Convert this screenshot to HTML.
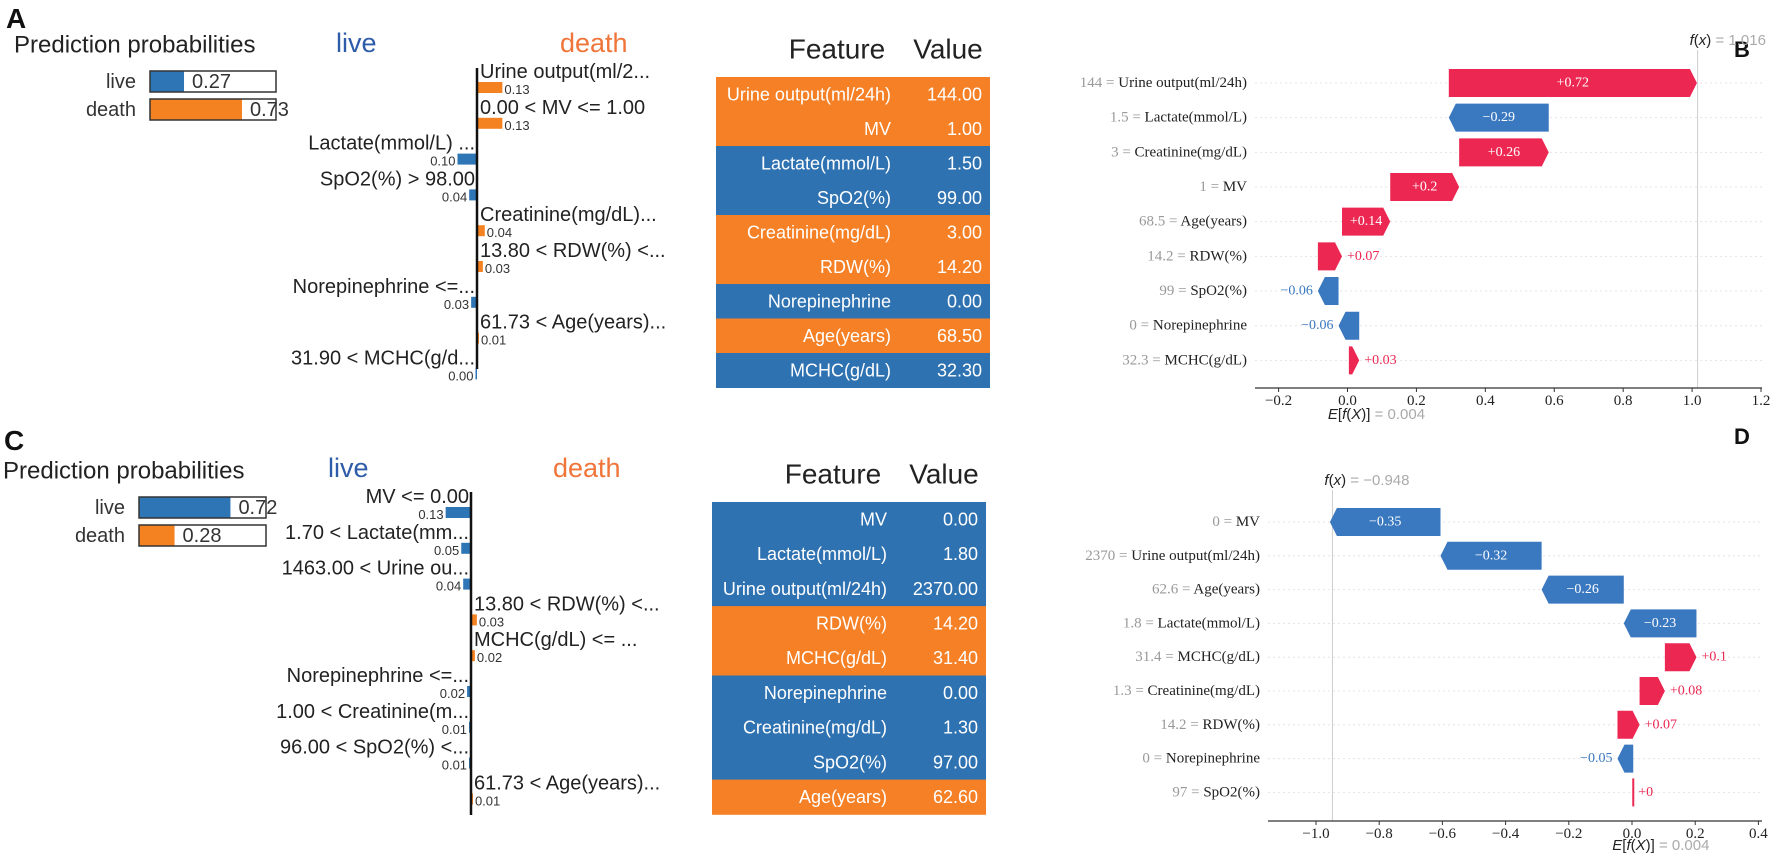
<!DOCTYPE html>
<html><head><meta charset="utf-8">
<style>
html,body{margin:0;padding:0;background:#fff;}
svg{display:block;}
.sans{font-family:"Liberation Sans",sans-serif;}
.serif{font-family:"Liberation Serif",serif;}
</style></head>
<body>
<svg id="fig" width="1772" height="853" viewBox="0 0 1772 853" xmlns="http://www.w3.org/2000/svg">
<rect width="1772" height="853" fill="#fff"/>
<text x="6" y="28" class="sans" font-size="28" font-weight="bold" fill="#111">A</text>
<text x="4" y="450" class="sans" font-size="28" font-weight="bold" fill="#111">C</text>
<text x="1734" y="57" class="sans" font-size="22" font-weight="bold" fill="#111">B</text>
<text x="1734" y="444" class="sans" font-size="22" font-weight="bold" fill="#111">D</text>
<g id="gA"></g>
<g id="gC"></g>
<g id="gB"></g>
<g id="gD"></g>
</svg>
<script>
// ---------- Data: panel A (LIME) ----------
const probLabels = ['live','death'];
const probA = [0.27, 0.73];
const limeALabels = ['Urine output(ml/2...','0.00 < MV <= 1.00','Lactate(mmol/L) ...','SpO2(%) > 98.00','Creatinine(mg/dL)...','13.80 < RDW(%) <...','Norepinephrine <=...','61.73 < Age(years)...','31.90 < MCHC(g/d...'];
const limeAValues = [0.13, 0.13, -0.10, -0.04, 0.04, 0.03, -0.03, 0.01, -0.004];
const tableAFeatures = ['Urine output(ml/24h)','MV','Lactate(mmol/L)','SpO2(%)','Creatinine(mg/dL)','RDW(%)','Norepinephrine','Age(years)','MCHC(g/dL)'];
const tableAValues = ['144.00','1.00','1.50','99.00','3.00','14.20','0.00','68.50','32.30'];
const tableAClass = ['death','death','live','live','death','death','live','death','live'];
// ---------- Data: panel C (LIME) ----------
const probC = [0.72, 0.28];
const limeCLabels = ['MV <= 0.00','1.70 < Lactate(mm...','1463.00 < Urine ou...','13.80 < RDW(%) <...','MCHC(g/dL) <= ...','Norepinephrine <=...','1.00 < Creatinine(m...','96.00 < SpO2(%) <...','61.73 < Age(years)...'];
const limeCValues = [-0.13, -0.05, -0.04, 0.03, 0.02, -0.02, -0.01, -0.01, 0.01];
const tableCFeatures = ['MV','Lactate(mmol/L)','Urine output(ml/24h)','RDW(%)','MCHC(g/dL)','Norepinephrine','Creatinine(mg/dL)','SpO2(%)','Age(years)'];
const tableCValues = ['0.00','1.80','2370.00','14.20','31.40','0.00','1.30','97.00','62.60'];
const tableCClass = ['live','live','live','death','death','live','live','live','death'];
// ---------- Data: panel B (SHAP) ----------
const shapBFeatures = ['Urine output(ml/24h)','Lactate(mmol/L)','Creatinine(mg/dL)','MV','Age(years)','RDW(%)','SpO2(%)','Norepinephrine','MCHC(g/dL)'];
const shapBFeatureValues = ['144','1.5','3','1','68.5','14.2','99','0','32.3'];
const shapBContrib = [0.72, -0.29, 0.26, 0.2, 0.14, 0.07, -0.06, -0.06, 0.03];
const shapBBase = 0.004;
const shapBFx = 1.016;
const shapBTicks = [-0.2, 0.0, 0.2, 0.4, 0.6, 0.8, 1.0, 1.2];
// ---------- Data: panel D (SHAP) ----------
const shapDFeatures = ['MV','Urine output(ml/24h)','Age(years)','Lactate(mmol/L)','MCHC(g/dL)','Creatinine(mg/dL)','RDW(%)','Norepinephrine','SpO2(%)'];
const shapDFeatureValues = ['0','2370','62.6','1.8','31.4','1.3','14.2','0','97'];
const shapDContrib = [-0.35, -0.32, -0.26, -0.23, 0.1, 0.08, 0.07, -0.05, 0.0];
const shapDBase = 0.004;
const shapDFx = -0.948;
const shapDTicks = [-1.0, -0.8, -0.6, -0.4, -0.2, 0.0, 0.2, 0.4];

const NS = 'http://www.w3.org/2000/svg';
const BLUE = '#2e75b6', ORANGE = '#f58220';
const TBLUE = '#2f72b1', TORANGE = '#f58025';
const RED = '#ec2752', SBLUE = '#3a78c0';
function el(parent, tag, attrs, text) {
  const e = document.createElementNS(NS, tag);
  for (const k in attrs) e.setAttribute(k, attrs[k]);
  if (text !== undefined) e.textContent = text;
  parent.appendChild(e);
  return e;
}
function fmtTick(v) { const s = Math.abs(v).toFixed(1); return v < -1e-9 ? '\u2212' + s : s; }

function drawLime(g, L, probs, labels, values, feats, vals, cls) {
  let t = el(g, 'text', {x: L.ppX, y: L.ppY, class: 'sans', 'font-size': 24, fill: '#222', 'dominant-baseline': 'central'}, 'Prediction probabilities');
  
  
  for (let i = 0; i < probs.length; i++) {
    const by = L.boxY[i];
    t = el(g, 'text', {x: L.boxX - 14, y: by + 11, class: 'sans', 'font-size': 20, fill: '#333', 'text-anchor': 'end', 'dominant-baseline': 'central'}, probLabels[i]);
    
    
    const fw = probs[i] * L.boxW;
    let r = el(g, 'rect', {x: L.boxX, y: by, width: fw, height: 21, fill: i === 0 ? BLUE : ORANGE});
    
    
    r = el(g, 'rect', {x: L.boxX, y: by, width: L.boxW, height: 21, fill: 'none', stroke: '#333', 'stroke-width': 1.5});
    
    
    t = el(g, 'text', {x: L.boxX + fw + 8, y: by + 11, class: 'sans', 'font-size': 20, fill: '#333', 'dominant-baseline': 'central'}, probs[i].toFixed(2));
    
    
  }
  t = el(g, 'text', {x: L.liveX, y: L.hdrY, class: 'sans', 'font-size': 27, fill: '#2e5ca8', 'dominant-baseline': 'central'}, 'live');
  
  
  t = el(g, 'text', {x: L.deathX, y: L.hdrY, class: 'sans', 'font-size': 27, fill: '#f0753a', 'dominant-baseline': 'central'}, 'death');
  
  
  const sc = v => v * 195;
  for (let i = 0; i < values.length; i++) {
    const ly = L.rowY0 + i * L.rowStep;
    const v = values[i];
    const right = v > 0;
    const w = Math.max(Math.abs(sc(v)), 1.5);
    t = el(g, 'text', {x: right ? L.axX + 3 : L.axX - 2, y: ly, class: 'sans', 'font-size': 20, fill: '#222', 'text-anchor': right ? 'start' : 'end', 'dominant-baseline': 'central'}, labels[i]);
    
    
    const r = el(g, 'rect', {x: right ? L.axX : L.axX - w, y: ly + 10, width: w, height: 11, fill: right ? ORANGE : BLUE});
    
    
    t = el(g, 'text', {x: right ? L.axX + w + 2 : L.axX - w - 2, y: ly + 22, class: 'sans', 'font-size': 13, fill: '#333', 'text-anchor': right ? 'start' : 'end'}, Math.abs(v).toFixed(2));
    
    
  }
  const ax = el(g, 'line', {x1: L.axX, x2: L.axX, y1: L.axY1, y2: L.axY2, stroke: '#111', 'stroke-width': 2.5});
  
  
  t = el(g, 'text', {x: L.tX + 121, y: L.tHdrY, class: 'sans', 'font-size': 28, fill: '#222', 'text-anchor': 'middle', 'dominant-baseline': 'central'}, 'Feature');
  
  
  t = el(g, 'text', {x: L.tX + 232, y: L.tHdrY, class: 'sans', 'font-size': 28, fill: '#222', 'text-anchor': 'middle', 'dominant-baseline': 'central'}, 'Value');
  
  
  for (let i = 0; i < feats.length; i++) {
    const y = L.tY + i * L.tRow;
    const r = el(g, 'rect', {x: L.tX, y: y, width: 274, height: L.tRow + 0.5, fill: cls[i] === 'death' ? TORANGE : TBLUE});
    
    
    t = el(g, 'text', {x: L.tX + 175, y: y + L.tRow / 2, class: 'sans', 'font-size': 18, fill: '#fff', 'text-anchor': 'end', 'dominant-baseline': 'central'}, feats[i]);
    
    
    t = el(g, 'text', {x: L.tX + 266, y: y + L.tRow / 2, class: 'sans', 'font-size': 18, fill: '#fff', 'text-anchor': 'end', 'dominant-baseline': 'central'}, vals[i]);
    
    
  }
}

function drawShap(g, S, feats, fvals, contrib, base, fx, ticks) {
  const X = v => S.x0 + v * S.k;
  const n = feats.length;
  const ends = [];
  let acc = base;
  for (let i = n - 1; i >= 0; i--) { acc += contrib[i]; ends[i] = acc; }
  let ln = el(g, 'line', {x1: X(fx), x2: X(fx), y1: S.fxY + 10, y2: S.axY, stroke: '#ccc', 'stroke-width': 1});
  
  
  for (let i = 0; i < n; i++) {
    const cy = S.row0 + i * S.step;
    ln = el(g, 'line', {x1: S.axL, x2: S.axR, y1: cy, y2: cy, stroke: '#e4e4e4', 'stroke-width': 1, 'stroke-dasharray': '2,3'});
    
    
  }
  for (let i = 0; i < n; i++) {
    const cy = S.row0 + i * S.step;
    const c = contrib[i];
    const e = ends[i], s = e - c;
    const pos = c >= 0;
    const col = pos ? RED : SBLUE;
    const xs = X(s), xe = X(e);
    const w = Math.abs(xe - xs);
    const h = 28, tip = Math.min(7, w);
    let pts;
    if (w < 1) {
      pts = [[xs - 1, cy - h / 2], [xs + 1, cy - h / 2], [xs + 1, cy + h / 2], [xs - 1, cy + h / 2]];
    } else if (pos) {
      pts = [[xs, cy - h / 2], [xe - tip, cy - h / 2], [xe, cy], [xe - tip, cy + h / 2], [xs, cy + h / 2]];
    } else {
      pts = [[xs, cy - h / 2], [xe + tip, cy - h / 2], [xe, cy], [xe + tip, cy + h / 2], [xs, cy + h / 2]];
    }
    const p = el(g, 'polygon', {points: pts.map(q => q.join(',')).join(' '), fill: col});
    
    
    const lbl = (pos ? '+' : '\u2212') + String(+Math.abs(c).toFixed(2));
    const tw = lbl.length * 7.5 + 6;
    let t;
    if (w > tw + 4) {
      t = el(g, 'text', {x: (xs + xe) / 2, y: cy, class: 'serif', 'font-size': 14, fill: '#fff', 'text-anchor': 'middle', 'dominant-baseline': 'central'}, lbl);
    } else {
      const right = pos;
      const xx = right ? Math.max(xs, xe) + 5 : Math.min(xs, xe) - 5;
      t = el(g, 'text', {x: xx, y: cy, class: 'serif', 'font-size': 14, fill: col, 'text-anchor': right ? 'start' : 'end', 'dominant-baseline': 'central'}, lbl);
    }
    
    
    t = el(g, 'text', {x: S.labR, y: cy, class: 'serif', 'font-size': 15, fill: '#222', 'text-anchor': 'end', 'dominant-baseline': 'central'});
    el(t, 'tspan', {fill: '#999'}, fvals[i] + ' = ');
    el(t, 'tspan', {}, feats[i]);
    
    
  }
  ln = el(g, 'line', {x1: S.axL, x2: S.axR, y1: S.axY, y2: S.axY, stroke: '#333', 'stroke-width': 1.3});
  
  
  for (const tv of ticks) {
    const tk = el(g, 'line', {x1: X(tv), x2: X(tv), y1: S.axY, y2: S.axY + 4, stroke: '#333', 'stroke-width': 1});
    
    
    const tl = el(g, 'text', {x: X(tv), y: S.axY + 13, class: 'serif', 'font-size': 15, fill: '#222', 'text-anchor': 'middle', 'dominant-baseline': 'central'}, fmtTick(tv));
    
    
  }
  let t = el(g, 'text', {x: X(base) - 21, y: S.eY, class: 'sans', 'font-size': 15, fill: '#222', 'dominant-baseline': 'central'});
  el(t, 'tspan', {'font-style': 'italic'}, 'E');
  el(t, 'tspan', {}, '[');
  el(t, 'tspan', {'font-style': 'italic'}, 'f');
  el(t, 'tspan', {}, '(');
  el(t, 'tspan', {'font-style': 'italic'}, 'X');
  el(t, 'tspan', {}, ')]');
  el(t, 'tspan', {fill: '#aaa'}, ' = ' + base.toFixed(3));
  
  
  const fs = (fx < 0 ? '\u2212' : '') + Math.abs(fx).toFixed(3);
  t = el(g, 'text', {x: X(fx) - 8, y: S.fxY, class: 'sans', 'font-size': 15, fill: '#222', 'dominant-baseline': 'central'});
  el(t, 'tspan', {'font-style': 'italic'}, 'f');
  el(t, 'tspan', {}, '(');
  el(t, 'tspan', {'font-style': 'italic'}, 'x');
  el(t, 'tspan', {}, ')');
  el(t, 'tspan', {fill: '#aaa'}, ' = ' + fs);
  
  
}

drawLime(document.getElementById('gA'), {
  ppX: 14, ppY: 45, boxX: 150, boxW: 126, boxY: [71, 99],
  liveX: 336, deathX: 560, hdrY: 43,
  axX: 477, axY1: 68, axY2: 369, rowY0: 72, rowStep: 35.8,
  tX: 716, tY: 77, tRow: 34.5, tHdrY: 49
}, probA, limeALabels, limeAValues, tableAFeatures, tableAValues, tableAClass);

drawLime(document.getElementById('gC'), {
  ppX: 3, ppY: 471, boxX: 139, boxW: 127, boxY: [497, 525],
  liveX: 328, deathX: 553, hdrY: 468,
  axX: 471, axY1: 492, axY2: 815, rowY0: 497, rowStep: 35.8,
  tX: 712, tY: 502, tRow: 34.7, tHdrY: 474
}, probC, limeCLabels, limeCValues, tableCFeatures, tableCValues, tableCClass);

drawShap(document.getElementById('gB'), {
  x0: 1347.5, k: 344.6, axL: 1255, axR: 1762, axY: 388,
  row0: 83, step: 34.67, labR: 1247, fxY: 40, eY: 414
}, shapBFeatures, shapBFeatureValues, shapBContrib, shapBBase, shapBFx, shapBTicks);

drawShap(document.getElementById('gD'), {
  x0: 1632, k: 316, axL: 1268, axR: 1762, axY: 821,
  row0: 522, step: 33.8, labR: 1260, fxY: 480, eY: 845
}, shapDFeatures, shapDFeatureValues, shapDContrib, shapDBase, shapDFx, shapDTicks);
</script>
</body></html>
